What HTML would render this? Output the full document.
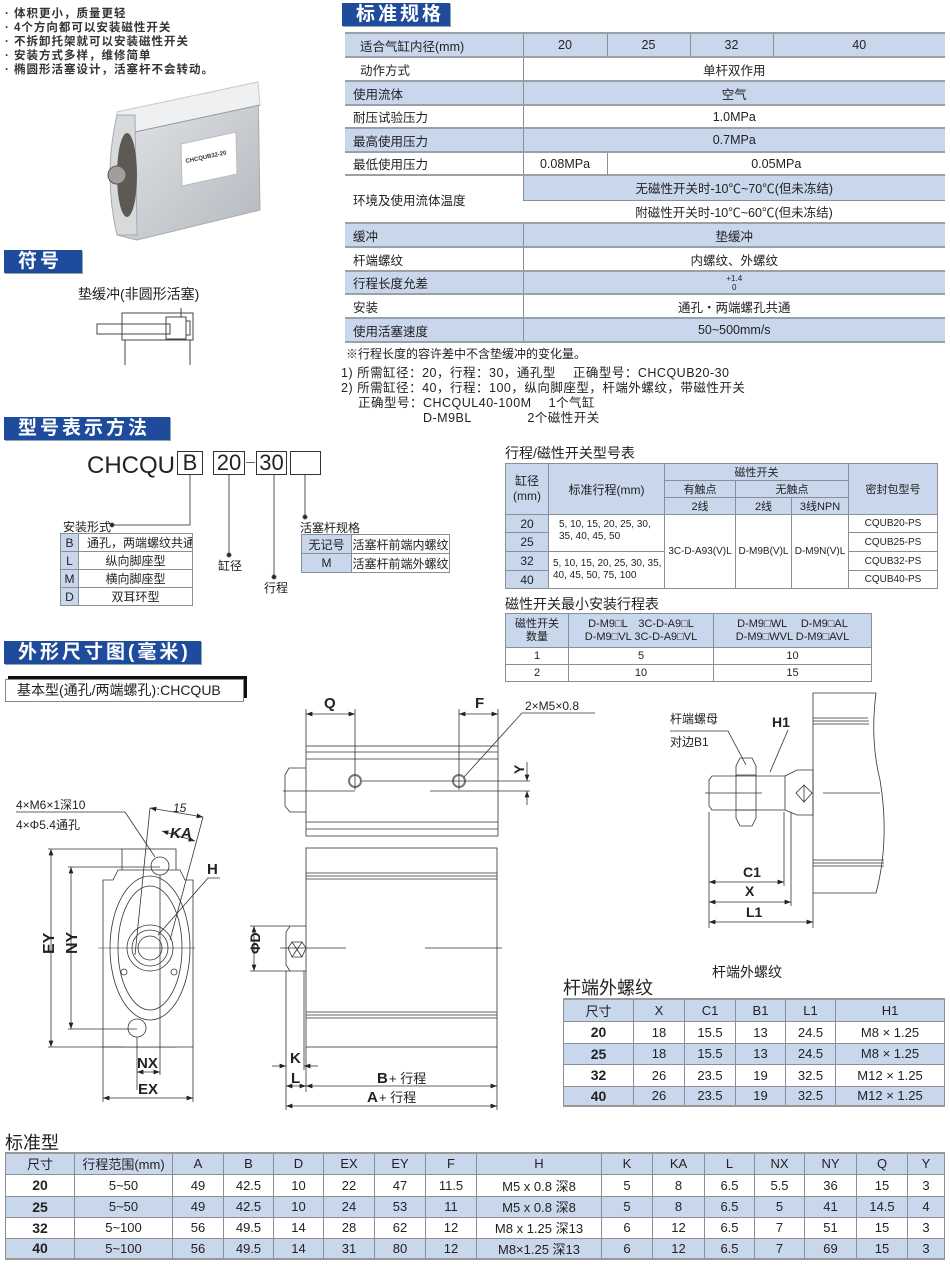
<!DOCTYPE html>
<html><head><meta charset="utf-8">
<style>
*{margin:0;padding:0;box-sizing:border-box}
body{width:950px;height:1279px;background:#fff;position:relative;overflow:hidden;font-family:"Liberation Sans","Noto Sans CJK SC",sans-serif;color:#222}
.a{position:absolute;white-space:nowrap}
.hd{position:absolute;background:#1f4b9c;color:#fff;font-weight:bold;font-size:19px;line-height:23px;padding-left:14px;letter-spacing:3px;box-shadow:1px 1px 0 #8aa}
table{position:absolute;border-collapse:collapse;table-layout:fixed;font-size:12px}
td{border:1px solid #8a8f96;text-align:center;padding:0;overflow:hidden;white-space:nowrap}
.b{background:#c8d7ec}
.l{text-align:left;padding-left:8px}
.spec td{border-left:1px solid #8a8f96;border-right:none;border-top:2px solid #9aa0a8;font-size:12.5px}
.spec td:first-child{border-left:none}
</style></head><body>

<div class="a" style="left:5px;top:7px;font-size:11.5px;line-height:14px;font-weight:bold;color:#333;letter-spacing:1px">· 体积更小，质量更轻<br>· 4个方向都可以安装磁性开关<br>· 不拆卸托架就可以安装磁性开关<br>· 安装方式多样，维修简单<br>· 椭圆形活塞设计，活塞杆不会转动。</div>

<!-- product image -->
<svg class="a" style="left:95px;top:75px" width="180" height="170">
<defs><linearGradient id="g1" x1="0" y1="0" x2="1" y2="1"><stop offset="0" stop-color="#e4e7ea"/><stop offset="1" stop-color="#b4b9bf"/></linearGradient></defs>
<polygon points="22,37 163,7 165,135 42,165 22,160" fill="url(#g1)" stroke="#aaa"/>
<polygon points="22,37 163,7 165,30 26,60" fill="#eef0f2" stroke="#ccc"/>
<line x1="26" y1="60" x2="165" y2="30" stroke="#999"/>
<path d="M22,40 L40,40 L42,160 L22,160 Q8,100 22,40Z" fill="#d7dadd" stroke="#aaa"/>
<ellipse cx="32" cy="100" rx="10" ry="42" fill="#5e5a53"/>
<circle cx="22" cy="100" r="9" fill="#a29f98" stroke="#555"/>
<polygon points="86,69 141,57 142,99 87,111" fill="#fff" stroke="#bbb"/>
<text x="91" y="88" font-size="6" font-weight="bold" fill="#333" transform="rotate(-12 91 88)">CHCQUB32-20</text>
</svg>

<div class="hd" style="left:4px;top:250px;width:78px">符号</div>
<div class="a" style="left:78px;top:284px;font-size:14px">垫缓冲(非圆形活塞)</div>
<svg class="a" style="left:90px;top:305px" width="110" height="60" fill="none" stroke="#444" stroke-width="1">
<rect x="32" y="8" width="71" height="27"/><rect x="7" y="19" width="73" height="10"/><rect x="76" y="12" width="20" height="22"/><rect x="96" y="16" width="4" height="14"/>
<line x1="91" y1="3" x2="91" y2="12"/><line x1="35" y1="35" x2="35" y2="60"/><line x1="100" y1="35" x2="100" y2="60"/>
</svg>

<div class="hd" style="left:342px;top:3px;width:108px">标准规格</div>
<table class="spec" style="left:345px;top:32px;width:600px">
<colgroup><col style="width:178px"><col style="width:84px"><col style="width:83px"><col style="width:83px"><col style="width:172px"></colgroup>
<tr class="b" style="height:24px"><td class="l" style="padding-left:15px">适合气缸内径(mm)</td><td>20</td><td>25</td><td>32</td><td>40</td></tr>
<tr style="height:24px"><td class="l" style="padding-left:15px">动作方式</td><td colspan="4">单杆双作用</td></tr>
<tr class="b" style="height:24px"><td class="l">使用流体</td><td colspan="4">空气</td></tr>
<tr style="height:23px"><td class="l">耐压试验压力</td><td colspan="4">1.0MPa</td></tr>
<tr class="b" style="height:24px"><td class="l">最高使用压力</td><td colspan="4">0.7MPa</td></tr>
<tr style="height:23px"><td class="l">最低使用压力</td><td>0.08MPa</td><td colspan="3">0.05MPa</td></tr>
<tr style="height:25px"><td class="l" rowspan="2">环境及使用流体温度</td><td colspan="4" class="b">无磁性开关时-10℃~70℃(但未冻结)</td></tr>
<tr style="height:23px"><td colspan="4" style="border-top:1px solid #9aa0a8">附磁性开关时-10℃~60℃(但未冻结)</td></tr>
<tr class="b" style="height:24px"><td class="l">缓冲</td><td colspan="4">垫缓冲</td></tr>
<tr style="height:24px"><td class="l">杆端螺纹</td><td colspan="4">内螺纹、外螺纹</td></tr>
<tr class="b" style="height:23px"><td class="l">行程长度允差</td><td colspan="4" style="font-size:8px">+1.4<br>0</td></tr>
<tr style="height:24px"><td class="l">安装</td><td colspan="4">通孔・两端螺孔共通</td></tr>
<tr class="b" style="height:24px;border-bottom:2px solid #9aa0a8"><td class="l">使用活塞速度</td><td colspan="4">50~500mm/s</td></tr>
</table>
<div class="a" style="left:346px;top:345px;font-size:12px">※行程长度的容许差中不含垫缓冲的变化量。</div>
<div class="a" style="left:341px;top:366px;font-size:12.5px;line-height:15px;letter-spacing:0.5px">1) 所需缸径：20，行程：30，通孔型　 正确型号：CHCQUB20-30<br>2) 所需缸径：40，行程：100，纵向脚座型，杆端外螺纹，带磁性开关<br>　 正确型号：CHCQUL40-100M　  1个气缸<br>　　　　　　 D-M9BL　　　　 2个磁性开关</div>

<div class="hd" style="left:4px;top:417px;width:166px">型号表示方法</div>
<div class="a" style="left:87px;top:452px;font-size:24px">CHCQU</div>
<div class="a" style="left:177px;top:451px;width:26px;height:24px;border:1px solid #333;font-size:22px;line-height:22px;text-align:center">B</div>
<div class="a" style="left:213px;top:451px;width:32px;height:24px;border:1px solid #333;font-size:22px;line-height:22px;text-align:center">20</div>
<div class="a" style="left:246px;top:462px;width:9px;border-top:1px solid #666"></div>
<div class="a" style="left:256px;top:451px;width:31px;height:24px;border:1px solid #333;font-size:22px;line-height:22px;text-align:center">30</div>
<div class="a" style="left:290px;top:451px;width:31px;height:24px;border:1px solid #333"></div>
<svg class="a" style="left:0;top:470px" width="340" height="120" stroke="#555" fill="#222">
<polyline points="190,5 190,55 112,55" fill="none"/><circle cx="112" cy="55" r="2"/>
<line x1="229" y1="5" x2="229" y2="85"/><circle cx="229" cy="85" r="2"/>
<line x1="274" y1="5" x2="274" y2="107"/><circle cx="274" cy="107" r="2"/>
<line x1="305" y1="5" x2="305" y2="47"/><circle cx="305" cy="47" r="2"/>
</svg>
<div class="a" style="left:63px;top:518px;font-size:12px">安装形式</div>
<table style="left:60px;top:533px;width:133px;font-size:12px">
<colgroup><col style="width:18px"><col></colgroup>
<tr style="height:18px"><td class="b">B</td><td class="l">通孔，两端螺纹共通</td></tr>
<tr style="height:17px"><td class="b">L</td><td>纵向脚座型</td></tr>
<tr style="height:18px"><td class="b">M</td><td>横向脚座型</td></tr>
<tr style="height:18px"><td class="b">D</td><td>双耳环型</td></tr>
</table>
<div class="a" style="left:218px;top:557px;font-size:12px">缸径</div>
<div class="a" style="left:264px;top:579px;font-size:12px">行程</div>
<div class="a" style="left:300px;top:519px;font-size:12px">活塞杆规格</div>
<table style="left:301px;top:534px;width:149px;font-size:12px">
<colgroup><col style="width:50px"><col></colgroup>
<tr style="height:19px"><td class="b">无记号</td><td>活塞杆前端内螺纹</td></tr>
<tr style="height:19px"><td class="b">M</td><td>活塞杆前端外螺纹</td></tr>
</table>

<div class="hd" style="left:4px;top:641px;width:197px">外形尺寸图(毫米)</div>
<div class="a" style="left:8px;top:676px;width:239px;height:4px;background:#111"></div>
<div class="a" style="left:243px;top:676px;width:4px;height:22px;background:#111"></div>
<div class="a" style="left:5px;top:679px;width:239px;height:23px;border:1px solid #888;background:#fff;font-size:14px;line-height:21px;padding-left:11px">基本型(通孔/两端螺孔):CHCQUB</div>

<div class="a" style="left:505px;top:443px;font-size:14px">行程/磁性开关型号表</div>
<table style="left:505px;top:463px;width:432px;font-size:11px">
<colgroup><col style="width:43px"><col style="width:116px"><col style="width:71px"><col style="width:56px"><col style="width:57px"><col style="width:89px"></colgroup>
<tr class="b" style="height:16px"><td rowspan="3" style="font-size:12px;line-height:15px">缸径<br>(mm)</td><td rowspan="3" style="font-size:12px">标准行程(mm)</td><td colspan="3">磁性开关</td><td rowspan="3">密封包型号</td></tr>
<tr class="b" style="height:16px"><td>有触点</td><td colspan="2">无触点</td></tr>
<tr class="b" style="height:16px"><td>2线</td><td>2线</td><td>3线NPN</td></tr>
<tr style="height:18px"><td class="b" style="font-size:12px">20</td><td rowspan="2" class="l" style="font-size:10px;line-height:12px;vertical-align:top;padding-top:4px;padding-left:10px">5, 10, 15, 20, 25, 30,<br>35, 40, 45, 50</td><td rowspan="4" style="font-size:10px">3C-D-A93(V)L</td><td rowspan="4" style="font-size:10px">D-M9B(V)L</td><td rowspan="4" style="font-size:10px">D-M9N(V)L</td><td style="font-size:10px">CQUB20-PS</td></tr>
<tr style="height:19px"><td class="b" style="font-size:12px">25</td><td style="font-size:10px">CQUB25-PS</td></tr>
<tr style="height:19px"><td class="b" style="font-size:12px">32</td><td rowspan="2" class="l" style="font-size:10px;line-height:12px;padding-left:4px">5, 10, 15, 20, 25, 30, 35,<br>40, 45, 50, 75, 100</td><td style="font-size:10px">CQUB32-PS</td></tr>
<tr style="height:18px"><td class="b" style="font-size:12px">40</td><td style="font-size:10px">CQUB40-PS</td></tr>
</table>
<div class="a" style="left:505px;top:594px;font-size:14px">磁性开关最小安装行程表</div>
<table style="left:505px;top:613px;width:367px;font-size:11px">
<colgroup><col style="width:63px"><col style="width:145px"><col></colgroup>
<tr class="b" style="height:34px;line-height:13px"><td>磁性开关<br>数量</td><td>D-M9□L　3C-D-A9□L<br>D-M9□VL 3C-D-A9□VL</td><td>D-M9□WL　 D-M9□AL<br>D-M9□WVL D-M9□AVL</td></tr>
<tr style="height:17px"><td>1</td><td>5</td><td>10</td></tr>
<tr style="height:17px"><td>2</td><td>10</td><td>15</td></tr>
</table>

<!-- drawings -->
<svg class="a" style="left:0;top:0" width="950" height="1130" fill="none" stroke="#333" stroke-width="0.8" font-family="Liberation Sans, Noto Sans CJK SC, sans-serif">
<defs><marker id="ar" markerWidth="8" markerHeight="6" refX="8" refY="3" orient="auto-start-reverse"><path d="M0,0 L8,3 L0,6z" fill="#222" stroke="none"/></marker></defs>
<rect x="122" y="849" width="54" height="198"/>
<path d="M103,880 L113,880 L118,870 L180,870 L185,880 L193,880 L193,1047 L103,1047 Z" fill="#fff"/>
<ellipse cx="150" cy="948" rx="40" ry="72"/><ellipse cx="150" cy="948" rx="32" ry="62"/>
<circle cx="150" cy="948" r="23"/><circle cx="150" cy="948" r="18"/><circle cx="150" cy="948" r="12"/>
<circle cx="160" cy="866" r="9"/><circle cx="137" cy="1028" r="9"/>
<circle cx="124" cy="972" r="3"/><circle cx="174" cy="972" r="3"/>
<line x1="98" y1="948" x2="195" y2="948" stroke-width="0.5"/>
<line x1="51" y1="849" x2="51" y2="1047" marker-start="url(#ar)" marker-end="url(#ar)"/>
<line x1="48" y1="849" x2="122" y2="849"/><line x1="48" y1="1047" x2="122" y2="1047"/>
<line x1="71" y1="867" x2="71" y2="1029" marker-start="url(#ar)" marker-end="url(#ar)"/>
<line x1="68" y1="867" x2="160" y2="867"/><line x1="68" y1="1029" x2="137" y2="1029"/>
<line x1="103" y1="1047" x2="103" y2="1102"/><line x1="193" y1="1047" x2="193" y2="1102"/>
<line x1="103" y1="1098" x2="193" y2="1098" marker-start="url(#ar)" marker-end="url(#ar)"/>
<line x1="137" y1="1037" x2="137" y2="1090"/><line x1="160" y1="875" x2="160" y2="1075"/>
<line x1="137" y1="1072" x2="160" y2="1072" marker-start="url(#ar)" marker-end="url(#ar)"/>
<line x1="150" y1="808" x2="203" y2="817" marker-start="url(#ar)" marker-end="url(#ar)"/>
<line x1="162" y1="831" x2="195" y2="841" marker-start="url(#ar)" marker-end="url(#ar)"/>
<line x1="150" y1="808" x2="135" y2="955"/><line x1="203" y1="817" x2="170" y2="940"/>
<polyline points="16,812 125,812 155,857"/><polyline points="220,878 208,878 158,935"/>
<g fill="#222" stroke="none" font-weight="bold">
<text x="40" y="956" font-size="16" transform="rotate(-90 46 948)">EY</text>
<text x="63" y="956" font-size="16" transform="rotate(-90 69 948)">NY</text>
<text x="137" y="1068" font-size="15">NX</text><text x="138" y="1094" font-size="15">EX</text>
<text x="207" y="874" font-size="15">H</text><text x="170" y="838" font-size="15" font-style="italic">KA</text>
</g>
<g fill="#222" stroke="none" font-size="12"><text x="173" y="812" font-style="italic">15</text><text x="16" y="809">4×M6×1深10</text><text x="16" y="829">4×Φ5.4通孔</text></g>
<rect x="306" y="746" width="192" height="90"/>
<line x1="306" y1="752" x2="498" y2="752"/><line x1="306" y1="759" x2="498" y2="759"/>
<line x1="306" y1="822" x2="498" y2="822"/><line x1="306" y1="829" x2="498" y2="829"/>
<path d="M306,768 L289,768 L285,775 L285,806 L290,812 L306,812"/>
<circle cx="355" cy="781" r="6" stroke="#777" stroke-width="2"/><circle cx="459" cy="781" r="6" stroke="#777" stroke-width="2"/>
<line x1="283" y1="791" x2="355" y2="791"/><line x1="430" y1="791" x2="530" y2="791"/>
<line x1="362" y1="781" x2="498" y2="781"/>
<line x1="306" y1="709" x2="306" y2="746"/><line x1="355" y1="709" x2="355" y2="790"/>
<line x1="459" y1="709" x2="459" y2="790"/><line x1="498" y1="709" x2="498" y2="746"/>
<line x1="306" y1="714" x2="355" y2="714" marker-start="url(#ar)" marker-end="url(#ar)"/>
<line x1="459" y1="714" x2="498" y2="714" marker-start="url(#ar)" marker-end="url(#ar)"/>
<polyline points="595,713 522,713 464,777"/>
<line x1="527" y1="762" x2="527" y2="781" marker-end="url(#ar)"/><line x1="527" y1="805" x2="527" y2="791" marker-end="url(#ar)"/>
<line x1="498" y1="781" x2="530" y2="781"/>
<g fill="#222" stroke="none"><text x="324" y="708" font-size="15" font-weight="bold">Q</text><text x="475" y="708" font-size="15" font-weight="bold">F</text>
<text x="525" y="710" font-size="12">2×M5×0.8</text>
<text x="512" y="774" font-size="14" font-weight="bold" transform="rotate(-90 518 768)">Y</text></g>
<rect x="306" y="848" width="191" height="199"/>
<line x1="306" y1="873" x2="497" y2="873"/><line x1="306" y1="876" x2="497" y2="876"/><line x1="306" y1="879" x2="497" y2="879"/>
<line x1="306" y1="1012" x2="497" y2="1012"/><line x1="306" y1="1015" x2="497" y2="1015"/><line x1="306" y1="1018" x2="497" y2="1018"/>
<path d="M306,926 L290,926 L286,932 L286,965 L290,971 L306,971"/>
<path d="M292,942 L302,942 L306,948 L302,957 L292,957 L288,948 Z M292,942 L302,957 M302,942 L292,957"/>
<line x1="280" y1="948" x2="346" y2="948"/><line x1="425" y1="948" x2="502" y2="948"/>
<line x1="250" y1="926" x2="290" y2="926"/><line x1="250" y1="971" x2="290" y2="971"/>
<line x1="254" y1="926" x2="254" y2="971" marker-start="url(#ar)" marker-end="url(#ar)"/>
<line x1="286" y1="971" x2="286" y2="1110"/><line x1="304" y1="971" x2="304" y2="1070"/><line x1="306" y1="1047" x2="306" y2="1092"/>
<line x1="497" y1="1047" x2="497" y2="1110"/>
<line x1="272" y1="1066" x2="286" y2="1066" marker-end="url(#ar)"/><line x1="318" y1="1066" x2="304" y2="1066" marker-end="url(#ar)"/>
<line x1="286" y1="1086" x2="306" y2="1086" marker-start="url(#ar)" marker-end="url(#ar)"/>
<line x1="306" y1="1086" x2="497" y2="1086" marker-start="url(#ar)" marker-end="url(#ar)"/>
<line x1="286" y1="1106" x2="497" y2="1106" marker-start="url(#ar)" marker-end="url(#ar)"/>
<g fill="#222" stroke="none" font-weight="bold" font-size="15">
<text x="247" y="955" transform="rotate(-90 253 948)" font-size="14">ΦD</text>
<text x="290" y="1063">K</text><text x="291" y="1083">L</text>
<text x="377" y="1083">B</text><text x="367" y="1102">A</text></g>
<g fill="#222" stroke="none" font-size="13"><text x="389" y="1083">+ 行程</text><text x="379" y="1102">+ 行程</text></g>
<path d="M813,693 L876,693 Q870,740 880,780 Q890,840 876,893 L813,893 Z"/>
<line x1="813" y1="718" x2="868" y2="718"/><line x1="813" y1="721" x2="869" y2="721"/><line x1="813" y1="724" x2="869" y2="724"/>
<line x1="813" y1="860" x2="884" y2="860"/><line x1="813" y1="863" x2="884" y2="863"/><line x1="813" y1="866" x2="884" y2="866"/>
<path d="M712,776 L785,776 L785,810 L712,810 L709,806 L709,780 Z"/>
<path d="M785,776 L797,770 L813,770 L813,815 L797,815 L785,810"/>
<path d="M804,785 L812,793 L804,802 L796,793 Z M804,785 L804,802"/>
<path d="M740,758 L752,758 L756,766 L756,818 L752,826 L740,826 L736,818 L736,766 Z M736,775 L756,775 M736,810 L756,810"/>
<line x1="705" y1="793" x2="762" y2="793"/><line x1="823" y1="793" x2="880" y2="793"/>
<polyline points="670,731 728,731 746,765"/><polyline points="788,730 770,772"/>
<line x1="709" y1="812" x2="709" y2="928"/><line x1="784" y1="812" x2="784" y2="886"/><line x1="791" y1="812" x2="791" y2="906"/><line x1="813" y1="893" x2="813" y2="928"/>
<line x1="709" y1="882" x2="784" y2="882" marker-start="url(#ar)" marker-end="url(#ar)"/>
<line x1="709" y1="902" x2="791" y2="902" marker-start="url(#ar)" marker-end="url(#ar)"/>
<line x1="709" y1="922" x2="813" y2="922" marker-start="url(#ar)" marker-end="url(#ar)"/>
<g fill="#222" stroke="none" font-weight="bold" font-size="14"><text x="743" y="877">C1</text><text x="745" y="896">X</text><text x="746" y="917">L1</text><text x="772" y="727">H1</text></g>
<g fill="#222" stroke="none" font-size="12"><text x="670" y="723">杆端螺母</text><text x="670" y="746">对边B1</text></g>
</svg>

<div class="a" style="left:712px;top:962px;font-size:14px">杆端外螺纹</div>
<div class="a" style="left:563px;top:974px;font-size:18px">杆端外螺纹</div>
<table style="left:563px;top:998px;width:382px;font-size:13px;border-top:2px solid #999;border-bottom:2px solid #999">
<colgroup><col style="width:70px"><col style="width:51px"><col style="width:51px"><col style="width:50px"><col style="width:50px"><col></colgroup>
<tr class="b" style="height:22px"><td>尺寸</td><td>X</td><td>C1</td><td>B1</td><td>L1</td><td>H1</td></tr>
<tr style="height:22px"><td style="font-weight:bold;font-size:14px">20</td><td>18</td><td>15.5</td><td>13</td><td>24.5</td><td>M8 × 1.25</td></tr>
<tr class="b" style="height:21px"><td style="font-weight:bold;font-size:14px">25</td><td>18</td><td>15.5</td><td>13</td><td>24.5</td><td>M8 × 1.25</td></tr>
<tr style="height:22px"><td style="font-weight:bold;font-size:14px">32</td><td>26</td><td>23.5</td><td>19</td><td>32.5</td><td>M12 × 1.25</td></tr>
<tr class="b" style="height:20px"><td style="font-weight:bold;font-size:14px">40</td><td>26</td><td>23.5</td><td>19</td><td>32.5</td><td>M12 × 1.25</td></tr>
</table>

<div class="a" style="left:5px;top:1129px;font-size:18px">标准型</div>
<table style="left:5px;top:1152px;width:940px;font-size:13px;border-top:2px solid #999;border-bottom:2px solid #999">
<colgroup><col style="width:69px"><col style="width:98px"><col style="width:51px"><col style="width:50px"><col style="width:50px"><col style="width:51px"><col style="width:51px"><col style="width:51px"><col style="width:125px"><col style="width:51px"><col style="width:52px"><col style="width:50px"><col style="width:50px"><col style="width:52px"><col style="width:51px"><col></colgroup>
<tr class="b" style="height:21px"><td>尺寸</td><td>行程范围(mm)</td><td>A</td><td>B</td><td>D</td><td>EX</td><td>EY</td><td>F</td><td>H</td><td>K</td><td>KA</td><td>L</td><td>NX</td><td>NY</td><td>Q</td><td>Y</td></tr>
<tr style="height:22px"><td style="font-weight:bold;font-size:14px">20</td><td>5~50</td><td>49</td><td>42.5</td><td>10</td><td>22</td><td>47</td><td>11.5</td><td>M5 x 0.8 深8</td><td>5</td><td>8</td><td>6.5</td><td>5.5</td><td>36</td><td>15</td><td>3</td></tr>
<tr class="b" style="height:21px"><td style="font-weight:bold;font-size:14px">25</td><td>5~50</td><td>49</td><td>42.5</td><td>10</td><td>24</td><td>53</td><td>11</td><td>M5 x 0.8 深8</td><td>5</td><td>8</td><td>6.5</td><td>5</td><td>41</td><td>14.5</td><td>4</td></tr>
<tr style="height:21px"><td style="font-weight:bold;font-size:14px">32</td><td>5~100</td><td>56</td><td>49.5</td><td>14</td><td>28</td><td>62</td><td>12</td><td>M8 x 1.25 深13</td><td>6</td><td>12</td><td>6.5</td><td>7</td><td>51</td><td>15</td><td>3</td></tr>
<tr class="b" style="height:21px"><td style="font-weight:bold;font-size:14px">40</td><td>5~100</td><td>56</td><td>49.5</td><td>14</td><td>31</td><td>80</td><td>12</td><td>M8×1.25 深13</td><td>6</td><td>12</td><td>6.5</td><td>7</td><td>69</td><td>15</td><td>3</td></tr>
</table>
</body></html>
